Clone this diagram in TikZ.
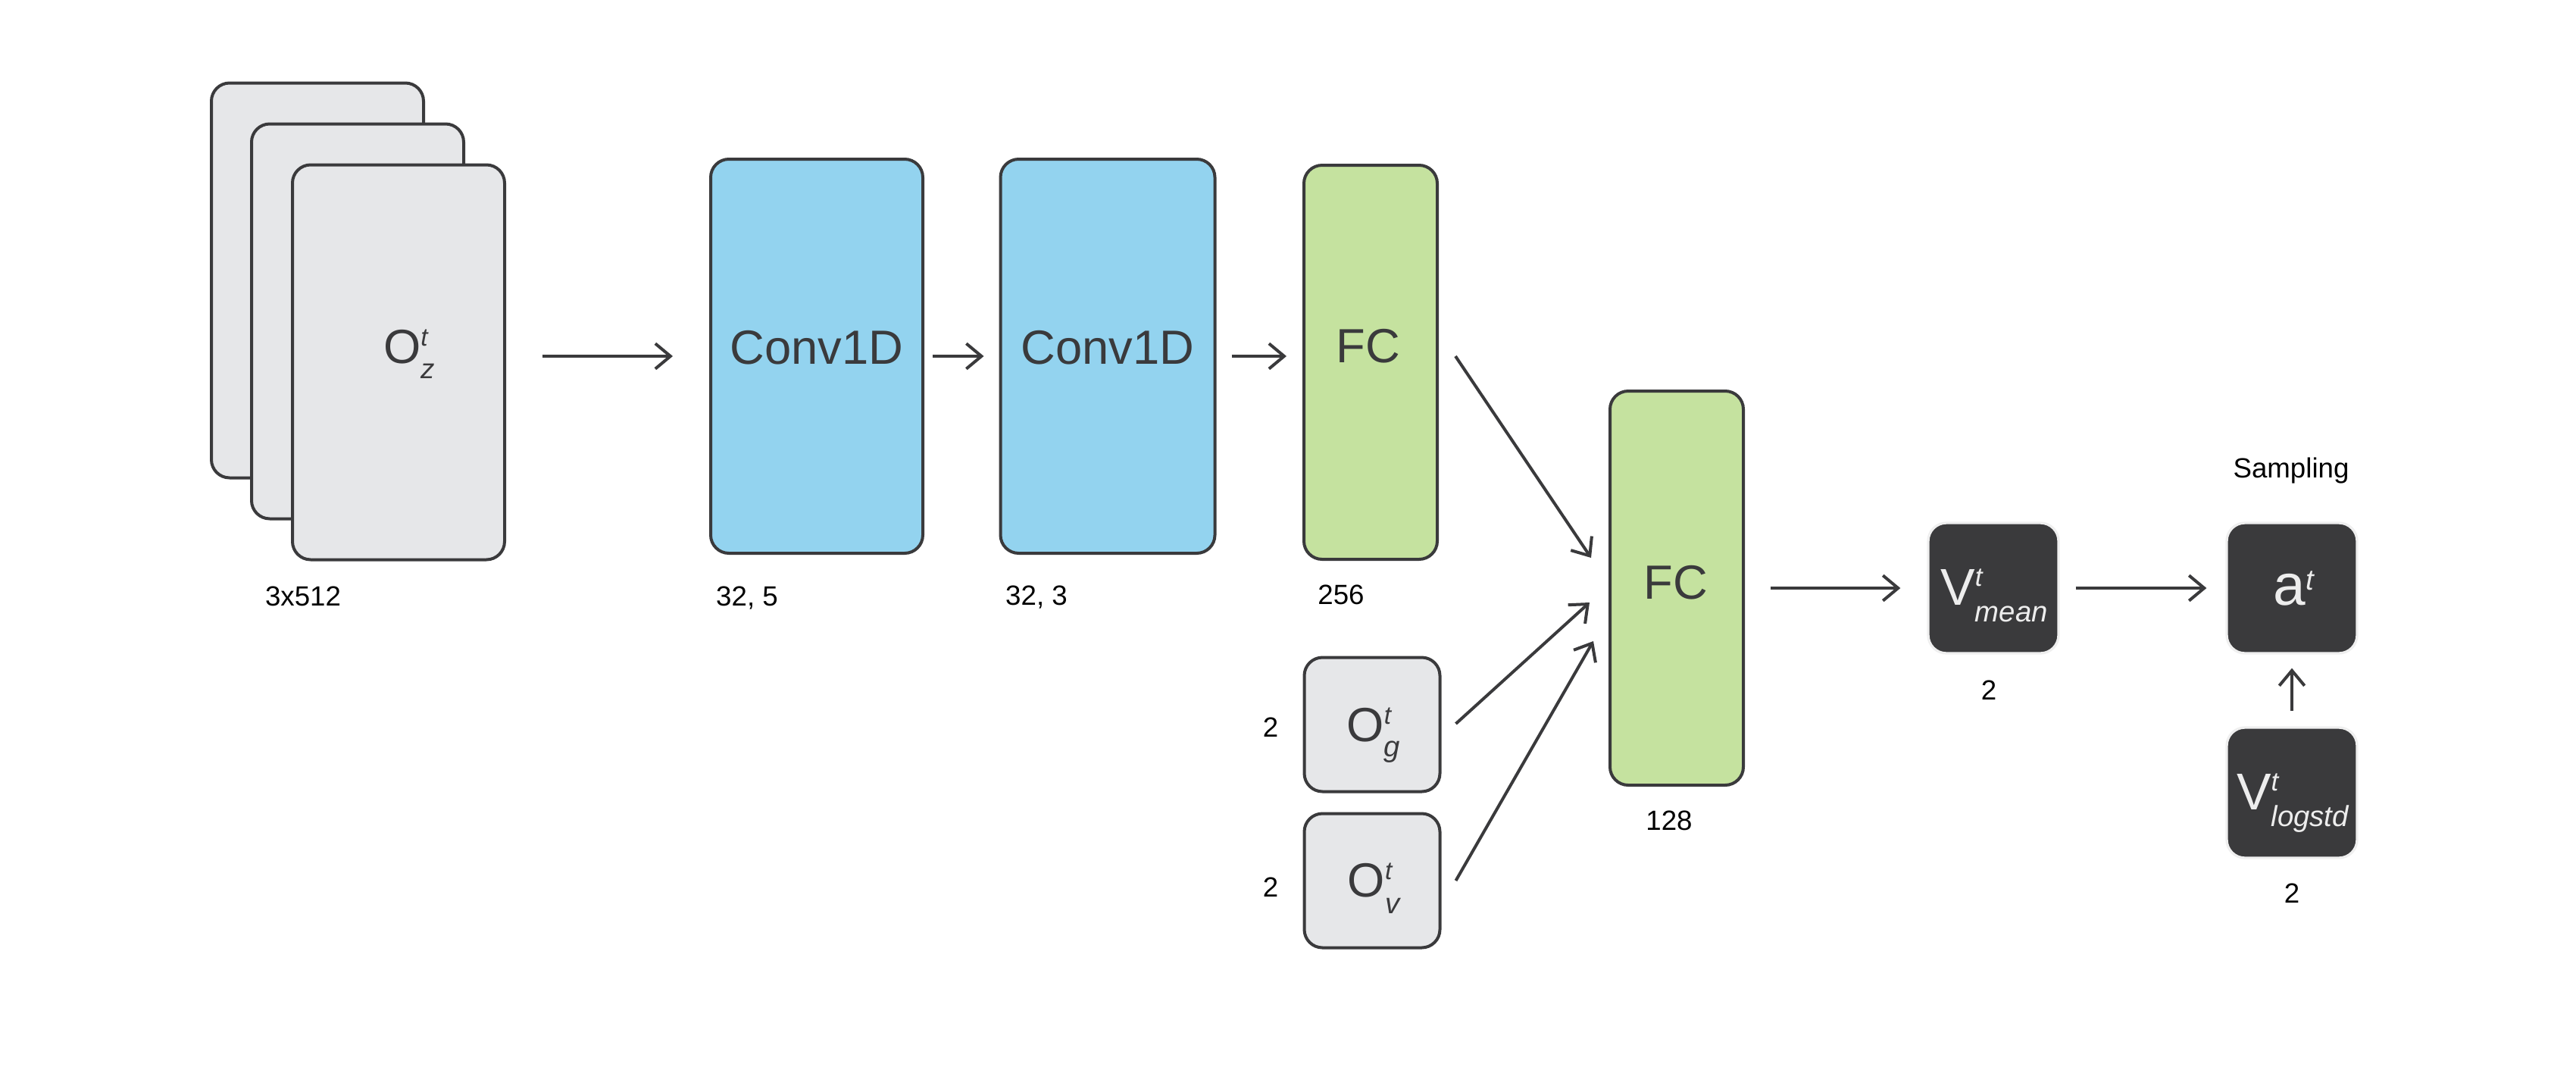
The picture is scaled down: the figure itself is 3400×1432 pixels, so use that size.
\documentclass[tikz,border=0pt]{standalone}
\usepackage{fontspec}
\setmainfont{Liberation Sans}
\usetikzlibrary{arrows.meta,calc}
\definecolor{edge}{HTML}{3A3A3C}
\definecolor{greyfill}{HTML}{E6E7E9}
\definecolor{bluefill}{HTML}{93D3EF}
\definecolor{greenfill}{HTML}{C5E29F}
\definecolor{darkfill}{HTML}{3A3A3C}
\definecolor{darkedge}{HTML}{EFEFEF}
\definecolor{lighttext}{HTML}{EDEDED}
\newcommand\fs[1]{\fontsize{#1}{#1}\selectfont}
\begin{document}
\begin{tikzpicture}[x=0.3pt,y=-0.3pt,
  box/.style={draw=edge, line width=1.2pt, rounded corners=7.2pt, inner sep=0pt},
  greybox/.style={box, fill=greyfill},
  bluebox/.style={box, fill=bluefill},
  greenbox/.style={box, fill=greenfill},
  darkbox/.style={draw=darkedge, line width=1pt, fill=darkfill, rounded corners=7.2pt, inner sep=0pt,
     minimum width={172*0.3pt}, minimum height={172*0.3pt}},
  tall/.style={minimum width={#1*0.3pt}, minimum height={520*0.3pt}},
  sq/.style={minimum width={179*0.3pt}, minimum height={177*0.3pt}},
  boxtext/.style={anchor=base, inner sep=0pt, text=edge},
  darktext/.style={anchor=base, inner sep=0pt, text=lighttext},
  dimlabel/.style={anchor=base, inner sep=0pt, text=black, font=\fs{11}},
  arr/.style={draw=edge, line width=1.2pt, -{Straight Barb[length=6pt, width=10pt, line width=1.2pt]}}
]
\useasboundingbox (0,0) rectangle (3400,1432);

% input stack
\node[greybox, minimum width={280*0.3pt}, minimum height={521*0.3pt}] (card1) at (419,370) {};
\node[greybox, minimum width={280*0.3pt}, minimum height={521*0.3pt}] (card2) at (472,424) {};
\node[greybox, minimum width={280*0.3pt}, minimum height={521*0.3pt}] (card3) at (526,478) {};
\node[boxtext] (oz) at (540,479) {\fs{19}O\rlap{\raisebox{6.9pt}{\fs{10}\itshape t}}\raisebox{-6pt}{\fs{11}\itshape z}};
\node[dimlabel] (l0) at (400,799) {3x512};

% conv layers
\node[bluebox, tall=280] (conv1) at (1078,470) {};
\node[boxtext, font=\fs{19}] (conv1t) at (1078,480) {Conv1D};
\node[dimlabel] (l1) at (986,799) {32, 5};

\node[bluebox, tall=283] (conv2) at (1462,470) {};
\node[boxtext, font=\fs{19}] (conv2t) at (1462,480) {Conv1D};
\node[dimlabel] (l2) at (1368,798) {32, 3};

% FC 1
\node[greenbox, tall=176] (fc1) at (1809,478) {};
\node[boxtext, font=\fs{19}] (fc1t) at (1806,478) {FC};
\node[dimlabel] (l3) at (1770,797) {256};

% small inputs
\node[greybox, sq] (og) at (1811,956) {};
\node[boxtext] (ogt) at (1813,978) {\fs{19}O\rlap{\raisebox{6.9pt}{\fs{10}\itshape t}}\raisebox{-6pt}{\fs{11.5}\itshape g}};
\node[dimlabel] (l4) at (1677,972) {2};

\node[greybox, sq] (ov) at (1811,1162) {};
\node[boxtext] (ovt) at (1813,1183) {\fs{19}O\rlap{\raisebox{6.9pt}{\fs{10}\itshape t}}\raisebox{-6.6pt}{\fs{11.5}\itshape v}};
\node[dimlabel] (l5) at (1677,1183) {2};

% FC 2
\node[greenbox, tall=176] (fc2) at (2213,776) {};
\node[boxtext, font=\fs{19}] (fc2t) at (2212,790) {FC};
\node[dimlabel] (l6) at (2203,1095) {128};

% outputs
\node[darkbox] (vmean) at (2631,776) {};
\node[darktext] (vmeant) at (2632,798) {{\fs{20.5}V}\rlap{\raisebox{7.5pt}{\fs{10.5}\itshape t}}\raisebox{-6.6pt}{\fs{11.5}\itshape mean}};
\node[dimlabel] (l7) at (2625,923) {2};

\node[darkbox] (at) at (3025,776) {};
\node[darktext] (att) at (3027,798) {{\fs{23}a}\raisebox{6pt}{\fs{11.5}\itshape t}};
\node[dimlabel] (samp) at (3024,630) {Sampling};

\node[darkbox] (vlog) at (3025,1046) {};
\node[darktext] (vlogt) at (3026,1068) {{\fs{20.5}V}\rlap{\raisebox{7.5pt}{\fs{10.5}\itshape t}}\raisebox{-6.6pt}{\fs{11.5}\itshape logstd}};
\node[dimlabel] (l8) at (3025,1191) {2};

% connectors
\draw[arr, shorten <=48*0.3pt, shorten >=48*0.3pt] (card3.east |- conv1.west) -- (conv1.west);
\draw[arr, shorten <=11*0.3pt, shorten >=20*0.3pt] (conv1.east) -- (conv2.west);
\draw[arr, shorten <=20*0.3pt, shorten >=21*0.3pt] (conv2.east) -- (conv2.east -| fc1.west);

\coordinate (s1) at ($(fc1.east)+(22,-8)$);
\coordinate (e1) at ($(fc2.west)+(-23,-40)$);
\coordinate (s2) at ($(og.east)+(19,-1)$);
\coordinate (e2) at ($(fc2.west)+(-25,19)$);
\coordinate (s3) at ($(ov.east)+(19,0)$);
\coordinate (e3) at ($(fc2.west)+(-20,70)$);
\draw[arr] (s1) -- (e1);
\draw[arr] (s2) -- (e2);
\draw[arr] (s3) -- (e3);

\draw[arr, shorten <=34*0.3pt, shorten >=35*0.3pt] (fc2.east) -- (vmean.west);
\draw[arr, shorten <=21*0.3pt, shorten >=25*0.3pt] (vmean.east) -- (at.west);
\draw[arr, shorten <=20*0.3pt, shorten >=18*0.3pt] (vlog.north) -- (at.south);
\end{tikzpicture}
\end{document}
